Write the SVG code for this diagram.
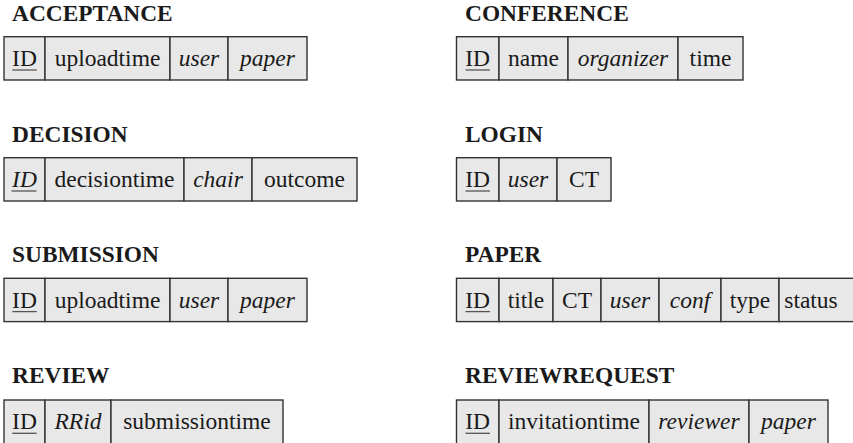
<svg xmlns="http://www.w3.org/2000/svg" width="853" height="443" viewBox="0 0 853 443">
  <style>
    .title { font-family: 'Liberation Serif', 'Times New Roman', serif; font-weight: bold; font-size: 23.4px; fill: #1a1a1a; }
    .cell { fill: #e8e8e8; stroke: #333333; stroke-width: 1.4; }
    .fld { font-family: 'Liberation Serif', 'Times New Roman', serif; font-size: 23.5px; fill: #1a1a1a; text-anchor: middle; }
    .it { font-style: italic; }
    .key { stroke: #555555; stroke-width: 1.3; }
  </style>

  <!-- ACCEPTANCE -->
  <g id="acceptance">
    <text class="title" x="12" y="20.7">ACCEPTANCE</text>
    <rect class="cell" x="4" y="36.7" width="41" height="43.3"/>
    <rect class="cell" x="45" y="36.7" width="125" height="43.3"/>
    <rect class="cell" x="170" y="36.7" width="58" height="43.3"/>
    <rect class="cell" x="228" y="36.7" width="79" height="43.3"/>
    <text class="fld" x="24.5" y="66">ID</text>
    <line class="key" x1="12.3" y1="70" x2="36.7" y2="70"/>
    <text class="fld" x="107.5" y="66">uploadtime</text>
    <text class="fld it" x="199" y="66">user</text>
    <text class="fld it" x="267.5" y="66">paper</text>
  </g>

  <!-- CONFERENCE -->
  <g id="conference">
    <text class="title" x="465" y="20.7">CONFERENCE</text>
    <rect class="cell" x="456.5" y="36.7" width="42.5" height="43.3"/>
    <rect class="cell" x="499" y="36.7" width="69" height="43.3"/>
    <rect class="cell" x="568" y="36.7" width="110" height="43.3"/>
    <rect class="cell" x="678" y="36.7" width="65" height="43.3"/>
    <text class="fld" x="477.7" y="66">ID</text>
    <line class="key" x1="465.5" y1="70" x2="490" y2="70"/>
    <text class="fld" x="533.5" y="66">name</text>
    <text class="fld it" x="623" y="66">organizer</text>
    <text class="fld" x="710.5" y="66">time</text>
  </g>

  <!-- DECISION -->
  <g id="decision">
    <text class="title" x="12" y="141.7">DECISION</text>
    <rect class="cell" x="4" y="157.7" width="41" height="43.3"/>
    <rect class="cell" x="45" y="157.7" width="139" height="43.3"/>
    <rect class="cell" x="184" y="157.7" width="68" height="43.3"/>
    <rect class="cell" x="252" y="157.7" width="105" height="43.3"/>
    <text class="fld it" x="24.5" y="187">ID</text>
    <line class="key" x1="11.5" y1="191" x2="36.5" y2="191"/>
    <text class="fld" x="114.5" y="187">decisiontime</text>
    <text class="fld it" x="218" y="187">chair</text>
    <text class="fld" x="304.5" y="187">outcome</text>
  </g>

  <!-- LOGIN -->
  <g id="login">
    <text class="title" x="465" y="141.7">LOGIN</text>
    <rect class="cell" x="456.5" y="157.7" width="42.5" height="43.3"/>
    <rect class="cell" x="499" y="157.7" width="58" height="43.3"/>
    <rect class="cell" x="557" y="157.7" width="54" height="43.3"/>
    <text class="fld" x="477.7" y="187">ID</text>
    <line class="key" x1="465.5" y1="191" x2="490" y2="191"/>
    <text class="fld it" x="528" y="187">user</text>
    <text class="fld" x="584" y="187">CT</text>
  </g>

  <!-- SUBMISSION -->
  <g id="submission">
    <text class="title" x="12" y="261.7">SUBMISSION</text>
    <rect class="cell" x="4" y="278.3" width="41" height="43.3"/>
    <rect class="cell" x="45" y="278.3" width="125" height="43.3"/>
    <rect class="cell" x="170" y="278.3" width="58" height="43.3"/>
    <rect class="cell" x="228" y="278.3" width="79" height="43.3"/>
    <text class="fld" x="24.5" y="307.6">ID</text>
    <line class="key" x1="12.3" y1="311.6" x2="36.7" y2="311.6"/>
    <text class="fld" x="107.5" y="307.6">uploadtime</text>
    <text class="fld it" x="199" y="307.6">user</text>
    <text class="fld it" x="267.5" y="307.6">paper</text>
  </g>

  <!-- PAPER (last cell runs past the right edge) -->
  <g id="paper">
    <text class="title" x="465" y="261.7">PAPER</text>
    <rect class="cell" x="456.5" y="278.3" width="42.5" height="43.3"/>
    <rect class="cell" x="499" y="278.3" width="54" height="43.3"/>
    <rect class="cell" x="553" y="278.3" width="48" height="43.3"/>
    <rect class="cell" x="601" y="278.3" width="58" height="43.3"/>
    <rect class="cell" x="659" y="278.3" width="62" height="43.3"/>
    <rect class="cell" x="721" y="278.3" width="58" height="43.3"/>
    <rect class="cell" x="779" y="278.3" width="80" height="43.3"/>
    <text class="fld" x="477.7" y="307.6">ID</text>
    <line class="key" x1="465.5" y1="311.6" x2="490" y2="311.6"/>
    <text class="fld" x="526" y="307.6">title</text>
    <text class="fld" x="577" y="307.6">CT</text>
    <text class="fld it" x="630" y="307.6">user</text>
    <text class="fld it" x="690" y="307.6">conf</text>
    <text class="fld" x="750" y="307.6">type</text>
    <text class="fld" x="811" y="307.6">status</text>
  </g>

  <!-- REVIEW (bottom runs past the lower edge) -->
  <g id="review">
    <text class="title" x="12" y="383.3">REVIEW</text>
    <rect class="cell" x="4" y="400" width="41" height="50"/>
    <rect class="cell" x="45" y="400" width="66" height="50"/>
    <rect class="cell" x="111" y="400" width="172" height="50"/>
    <text class="fld" x="24.5" y="429.3">ID</text>
    <line class="key" x1="12.3" y1="433.3" x2="36.7" y2="433.3"/>
    <text class="fld it" x="78" y="429.3">RRid</text>
    <text class="fld" x="197" y="429.3">submissiontime</text>
  </g>

  <!-- REVIEWREQUEST -->
  <g id="reviewrequest">
    <text class="title" x="465" y="383.3">REVIEWREQUEST</text>
    <rect class="cell" x="456.5" y="400" width="42.5" height="50"/>
    <rect class="cell" x="499" y="400" width="150" height="50"/>
    <rect class="cell" x="649" y="400" width="100" height="50"/>
    <rect class="cell" x="749" y="400" width="79" height="50"/>
    <text class="fld" x="477.7" y="429.3">ID</text>
    <line class="key" x1="465.5" y1="433.3" x2="490" y2="433.3"/>
    <text class="fld" x="574" y="429.3">invitationtime</text>
    <text class="fld it" x="699" y="429.3">reviewer</text>
    <text class="fld it" x="788.5" y="429.3">paper</text>
  </g>

  <!-- no connectors in this schema -->
  <g id="connectors"/>
</svg>
